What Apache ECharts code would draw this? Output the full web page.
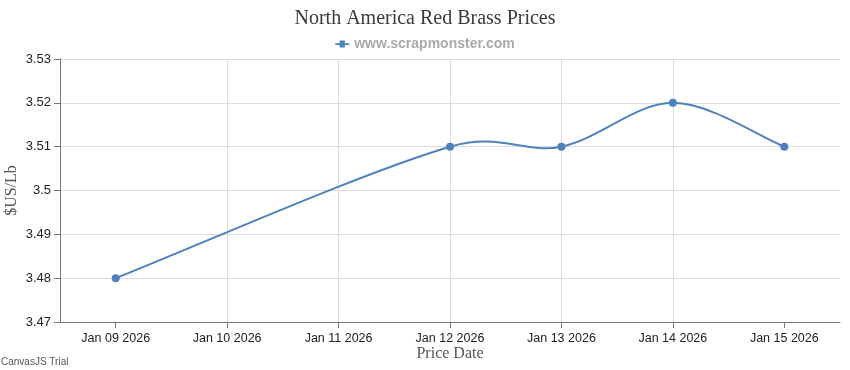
<!DOCTYPE html>
<html>
<head>
<meta charset="utf-8">
<script src="https://cdn.jsdelivr.net/npm/echarts@6/dist/echarts.min.js"></script>
<style>html,body{margin:0;padding:0;background:#fff}#c{width:850px;height:370px}</style>
</head>
<body>
<div id="c"></div>
<script>
var titleText = 'North America Red Brass Prices';
var seriesName = 'www.scrapmonster.com';
var tickDates = ['2026-01-09','2026-01-10','2026-01-11','2026-01-12','2026-01-13','2026-01-14','2026-01-15'];
var pointDates = ['2026-01-09','2026-01-12','2026-01-13','2026-01-14','2026-01-15'];
var pointValues = [3.48, 3.51, 3.51, 3.52, 3.51];
var yMin = 3.47, yMax = 3.53, yStep = 0.01;
var xMinDate = '2026-01-08T12:00:00Z', xMaxDate = '2026-01-15T12:00:00Z';

function ts(s){ return s.length === 10 ? Date.parse(s + 'T00:00:00Z') : Date.parse(s); }
var months = ['Jan','Feb','Mar','Apr','May','Jun','Jul','Aug','Sep','Oct','Nov','Dec'];
function fmt(v){
  var d = new Date(v);
  var dd = d.getUTCDate();
  return months[d.getUTCMonth()] + ' ' + (dd < 10 ? '0' + dd : dd) + ' ' + d.getUTCFullYear();
}
var tickTs = tickDates.map(ts);
var data = pointDates.map(function(d, i){ return [ts(d), pointValues[i]]; });
var lineColor = '#4f81bc';
var tension = 2;

// spline segment between point i-1 and i; positions come from the axes via api.coord
function renderItem(params, api){
  var i = params.dataIndex;
  var n = data.length;
  function P(j){ return api.coord([api.value(0, j), api.value(1, j)]); }
  var pts = [];
  for (var j = 0; j < n; j++) pts.push(P(j));
  function cpOut(k){
    var i1 = Math.max(k - 1, 0), i2 = Math.min(k + 1, n - 1);
    var den = (pts[i2][0] - pts[k][0]) || 0.01;
    var dist = Math.abs((pts[i2][0] - pts[i1][0]) / den) * (tension - 1) / 2 + 1;
    return [pts[k][0] + (pts[i2][0] - pts[i1][0]) / dist / 3, pts[k][1] + (pts[i2][1] - pts[i1][1]) / dist / 3];
  }
  function cpIn(k){
    var i1 = Math.max(k - 1, 0), i2 = Math.min(k + 1, n - 1);
    var den = (pts[k][0] - pts[i1][0]) || 0.01;
    var dist = Math.abs((pts[i2][0] - pts[i1][0]) / den) * (tension - 1) / 2 + 1;
    return [pts[k][0] - (pts[i2][0] - pts[i1][0]) / dist / 3, pts[k][1] - (pts[i2][1] - pts[i1][1]) / dist / 3];
  }
  var cur = pts[i];
  var children = [{
    type: 'circle', z2: 10,
    shape: {cx: cur[0], cy: cur[1], r: 4},
    style: {fill: lineColor}
  }];
  if (i > 0) {
    var p0 = pts[i - 1], p1 = cur;
    var c1 = cpOut(i - 1), c2 = cpIn(i);
    children.push({
      type: 'bezierCurve', z2: 1,
      shape: {x1: p0[0], y1: p0[1], cpx1: c1[0], cpy1: c1[1], cpx2: c2[0], cpy2: c2[1], x2: p1[0], y2: p1[1]},
      style: {stroke: lineColor, lineWidth: 2, fill: null}
    });
  }
  return {type: 'group', children: children};
}

var chart = echarts.init(document.getElementById('c'), null, {renderer: 'canvas'});
chart.setOption({
  animation: false,
  backgroundColor: '#fff',
  title: {
    text: titleText,
    left: 'center',
    top: 4,
    textStyle: {fontFamily: 'Liberation Serif', fontSize: 20, fontWeight: 'normal', color: '#3a3a3a'}
  },
  legend: {
    top: 32,
    left: 'center',
    itemWidth: 14,
    itemHeight: 8,
    itemGap: 5,
    data: [{name: seriesName, icon: 'path://M0,5 L5,5 L5,2 L11,2 L11,5 L16,5 L16,7 L11,7 L11,10 L5,10 L5,7 L0,7 Z', itemStyle: {color: lineColor}}],
    textStyle: {fontFamily: 'Liberation Sans', fontSize: 14, fontWeight: 'bold', color: '#aaaaaa'}
  },
  grid: {left: 60, right: 10, top: 59, bottom: 48, containLabel: false, outerBoundsMode: 'none'},
  xAxis: {
    type: 'value',
    min: ts(xMinDate),
    max: ts(xMaxDate),
    name: 'Price Date',
    nameLocation: 'middle',
    nameGap: 24,
    nameMoveOverlap: false,
    nameTextStyle: {fontFamily: 'Liberation Serif', fontSize: 16, color: '#555'},
    axisLine: {show: true, lineStyle: {color: '#777', width: 1}},
    axisTick: {show: true, length: 6, lineStyle: {color: '#777'}, customValues: tickTs},
    axisLabel: {
      customValues: tickTs,
      formatter: function(v){ return fmt(v); },
      fontFamily: 'Liberation Sans', fontSize: 12.5, color: '#222', margin: 10,
      hideOverlap: false
    },
    splitLine: {show: true, lineStyle: {color: '#dcdcdc', width: 1}, showMinLine: false, showMaxLine: false}
  },
  yAxis: {
    type: 'value',
    min: yMin,
    max: yMax,
    interval: yStep,
    name: '$US/Lb',
    nameLocation: 'middle',
    nameGap: 40,
    nameMoveOverlap: false,
    nameTextStyle: {fontFamily: 'Liberation Serif', fontSize: 16, color: '#555'},
    axisLine: {show: true, lineStyle: {color: '#777', width: 1}},
    axisTick: {show: true, length: 6, lineStyle: {color: '#777'}},
    axisLabel: {
      fontFamily: 'Liberation Sans', fontSize: 13, color: '#222', margin: 9,
      formatter: function(v){ return String(parseFloat(v.toFixed(2))); }
    },
    splitLine: {show: true, lineStyle: {color: '#dcdcdc', width: 1}}
  },
  series: [{
    name: seriesName,
    type: 'custom',
    data: data,
    encode: {x: 0, y: 1},
    renderItem: renderItem,
    itemStyle: {color: lineColor}
  }],
  graphic: [{
    type: 'text',
    left: 1,
    top: 357,
    style: {text: 'CanvasJS Trial', fontFamily: 'Liberation Sans', fontSize: 10, fill: '#555'}
  }]
});
</script>
</body>
</html>
